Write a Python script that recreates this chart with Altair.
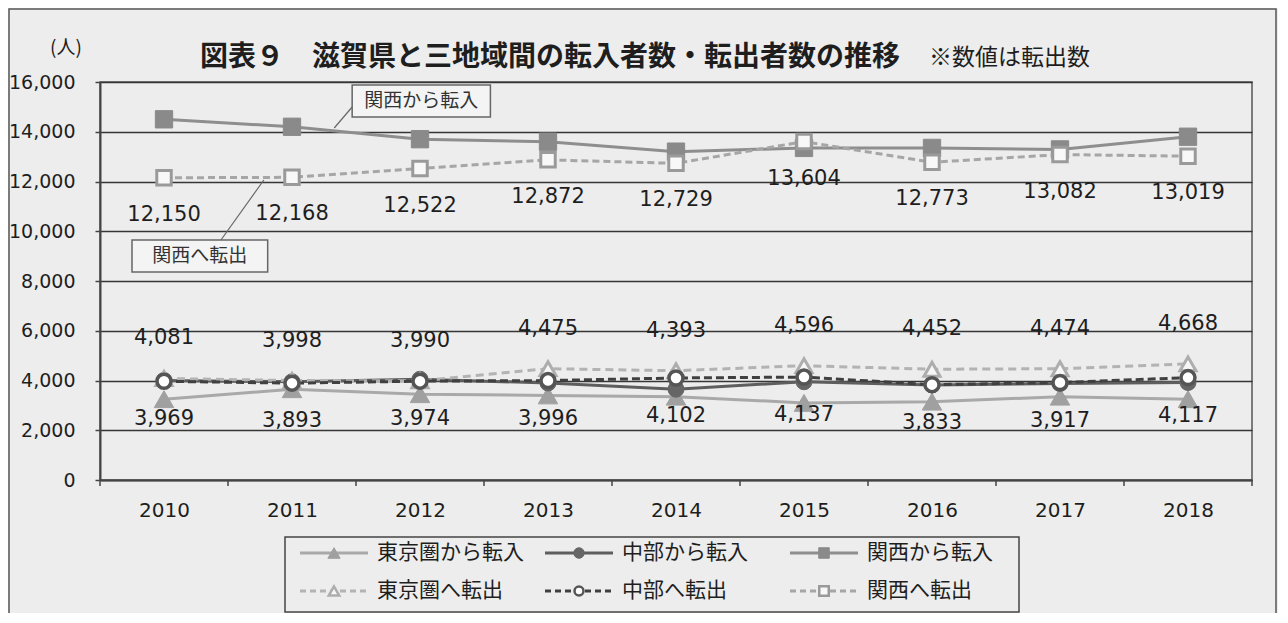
import altair as alt
import pandas as pd

# ---------------- data ----------------
years = [2010, 2011, 2012, 2013, 2014, 2015, 2016, 2017, 2018]
tokyo_in = [3250, 3650, 3450, 3400, 3350, 3100, 3150, 3350, 3250]
chubu_in = [4000, 3950, 4050, 3900, 3650, 3950, 3820, 3880, 3920]
kansai_in = [14500, 14200, 13700, 13600, 13200, 13350, 13350, 13290, 13800]
tokyo_out = [4081, 3998, 3990, 4475, 4393, 4596, 4452, 4474, 4668]
chubu_out = [3969, 3893, 3974, 3996, 4102, 4137, 3833, 3917, 4117]
kansai_out = [12150, 12168, 12522, 12872, 12729, 13604, 12773, 13082, 13019]
y_ticks = [0, 2000, 4000, 6000, 8000, 10000, 12000, 14000, 16000]

series_names = ["東京圏から転入", "中部から転入", "関西から転入",
                "東京圏へ転出", "中部へ転出", "関西へ転出"]
series_values = [tokyo_in, chubu_in, kansai_in, tokyo_out, chubu_out, kansai_out]

title_text = "図表９　滋賀県と三地域間の転入者数・転出者数の推移"
note_text = "※数値は転出数"
unit_text = "(人)"

rows = []
for name, vals in zip(series_names, series_values):
    for yr, v in zip(years, vals):
        rows.append({"year": yr, "series": name, "value": v})
df = pd.DataFrame(rows)

boundaries = pd.DataFrame({"b": [years[0] - 0.5] + [yr + 0.5 for yr in years]})

# callouts (data coordinates)
callouts = pd.DataFrame({
    "label": ["関西から転入", "関西へ転出"],
    "x1": [2011.47, 2009.75], "x2": [2012.55, 2010.81],
    "y1": [14593, 8362], "y2": [15879, 9648],
})
callouts["xc"] = (callouts["x1"] + callouts["x2"]) / 2
callouts["yc"] = (callouts["y1"] + callouts["y2"]) / 2
leaders = pd.DataFrame({
    "x1": [2011.47, 2010.445], "y1": [14995, 9648],
    "x2": [2011.33, 2010.78], "y2": [14151, 12060],
})

# ---------------- styles ----------------
NUM_FONT = "DejaVu Sans"
JP_FONT = "Noto Sans CJK JP"
TXT = "#1e1e1e"
BG = "#ededed"

styles = {
    "東京圏から転入": dict(line="#a9a9a9", dash=None, shape="triangle-up", fill="#a0a0a0", stroke="#a0a0a0", size=380, sw=1, lsize=150),
    "中部から転入": dict(line="#5e5e5e", dash=None, shape="circle", fill="#666666", stroke="#666666", size=256, sw=1, lsize=110),
    "関西から転入": dict(line="#8e8e8e", dash=None, shape="square", fill="#8a8a8a", stroke="#8a8a8a", size=300, sw=1, lsize=110),
    "東京圏へ転出": dict(line="#b3b3b3", dash=[8, 5], shape="triangle-up", fill="#f7f7f7", stroke="#adadad", size=256, sw=3, lsize=110),
    "中部へ転出": dict(line="#404040", dash=[8, 4], shape="circle", fill="#ffffff", stroke="#555555", size=196, sw=3.5, lsize=80),
    "関西へ転出": dict(line="#a6a6a6", dash=[7, 4], shape="square", fill="#f8f8f8", stroke="#9a9a9a", size=210, sw=3, lsize=90),
}
label_dy = {"東京圏へ転出": -40, "中部へ転出": 38, "関西へ転出": 37}

W, H = 1152, 398
xs = alt.Scale(domain=[2009.5, 2018.5], nice=False, zero=False)
ys = alt.Scale(domain=[0, 16000], nice=False)
xaxis = alt.Axis(values=years, labelExpr="format(datum.value, 'd')", ticks=False, tickSize=0,
                 labelPadding=20, labelFontSize=20, labelFont=NUM_FONT, labelColor=TXT,
                 labelFlush=False, domainColor="#444444", domainWidth=2, grid=False, title=None)
yaxis = alt.Axis(values=y_ticks, labelExpr="format(datum.value, ',')", tickSize=5,
                 tickColor="#444444", tickWidth=1.5, labelPadding=20, labelFontSize=19,
                 labelFont=NUM_FONT, labelColor=TXT, grid=True, gridColor="#363636",
                 gridWidth=1.6, domainColor="#444444", domainWidth=2, title=None)


def X(f):
    return alt.X(f"{f}:Q", scale=xs, axis=xaxis)


def Y(f):
    return alt.Y(f"{f}:Q", scale=ys, axis=yaxis)


base = alt.Chart(df)
layers = []

# boundary ticks on x axis
layers.append(alt.Chart(boundaries).mark_rule(color="#444444", strokeWidth=1.5).encode(
    x=X("b"), y=alt.value(H), y2=alt.value(H + 6)))

# series
for name in series_names:
    st = styles[name]
    sub = base.transform_filter(alt.datum.series == name)
    lk = dict(color=st["line"], strokeWidth=3)
    if st["dash"]:
        lk["strokeDash"] = st["dash"]
    layers.append(sub.mark_line(**lk).encode(x=X("year"), y=Y("value")))
    layers.append(sub.mark_point(shape=st["shape"], size=st["size"], filled=True, fill=st["fill"],
                                 stroke=st["stroke"], strokeWidth=st["sw"], opacity=1)
                  .encode(x=X("year"), y=Y("value")))

# value labels (転出)
for name, dy in label_dy.items():
    sub = base.transform_filter(alt.datum.series == name)
    layers.append(sub.mark_text(font=NUM_FONT, fontSize=21, color=TXT, dy=dy, baseline="middle")
                  .encode(x=X("year"), y=Y("value"), text=alt.Text("value:Q", format=",")))

# callouts
cb = alt.Chart(callouts)
layers.append(alt.Chart(leaders).mark_rule(color="#666666", strokeWidth=1.2).encode(
    x=X("x1"), y=Y("y1"), x2=alt.X2("x2:Q"), y2=alt.Y2("y2:Q")))
layers.append(cb.mark_rect(fill="#f4f4f4", stroke="#666666", strokeWidth=1.5).encode(
    x=X("x1"), x2=alt.X2("x2:Q"), y=Y("y1"), y2=alt.Y2("y2:Q")))
layers.append(cb.mark_text(font=JP_FONT, fontSize=19, color="#333333", baseline="middle").encode(
    x=X("xc"), y=Y("yc"), text="label:N"))

one = pd.DataFrame({"k": [0]})
oc = alt.Chart(one)

# outer frame
layers.append(oc.mark_rect(fill=None, stroke="#555555", strokeWidth=1.5).encode(
    x=alt.value(-91), x2=alt.value(W + 24), y=alt.value(-73), y2=alt.value(H + 150)))

# titles
layers.append(oc.mark_text(font=JP_FONT, fontSize=28, fontWeight="bold", color=TXT, align="left",
                           baseline="middle").encode(x=alt.value(100), y=alt.value(-24),
                                                     text=alt.value(title_text)))
layers.append(oc.mark_text(font=JP_FONT, fontSize=23, color=TXT, align="left",
                           baseline="middle").encode(x=alt.value(829), y=alt.value(-24),
                                                     text=alt.value(note_text)))
layers.append(oc.mark_text(font=JP_FONT, fontSize=19, color=TXT, align="center",
                           baseline="middle").encode(x=alt.value(-34), y=alt.value(-34),
                                                     text=alt.value(unit_text)))

# legend
layers.append(oc.mark_rect(fill=BG, stroke="#444444", strokeWidth=1.5).encode(
    x=alt.value(185), x2=alt.value(919), y=alt.value(455), y2=alt.value(530)))
for i, name in enumerate(series_names):
    st = styles[name]
    col, row = i % 3, i // 3
    x0 = 200 + col * 245
    yy = 471 + row * 38
    lk = dict(color=st["line"], strokeWidth=3)
    if st["dash"]:
        lk["strokeDash"] = [6, 4]
    layers.append(oc.mark_rule(**lk).encode(x=alt.value(x0), x2=alt.value(x0 + 68), y=alt.value(yy)))
    layers.append(oc.mark_point(shape=st["shape"], size=st["lsize"], filled=True, fill=st["fill"],
                                stroke=st["stroke"], strokeWidth=min(st["sw"], 2.5), opacity=1)
                  .encode(x=alt.value(x0 + 34), y=alt.value(yy)))
    layers.append(oc.mark_text(font=JP_FONT, fontSize=21, color=TXT, align="left", baseline="middle")
                  .encode(x=alt.value(x0 + 77), y=alt.value(yy), text=alt.value(name)))

chart = alt.layer(*layers).properties(
    width=W, height=H,
    autosize=alt.AutoSizeParams(type="none"),
    padding={"left": 92, "top": 74, "right": 26, "bottom": 133},
    background=BG,
).configure_view(stroke="#555555", strokeWidth=1.5)

chart.save("out.html", embed_options={"renderer": "svg", "actions": False})
